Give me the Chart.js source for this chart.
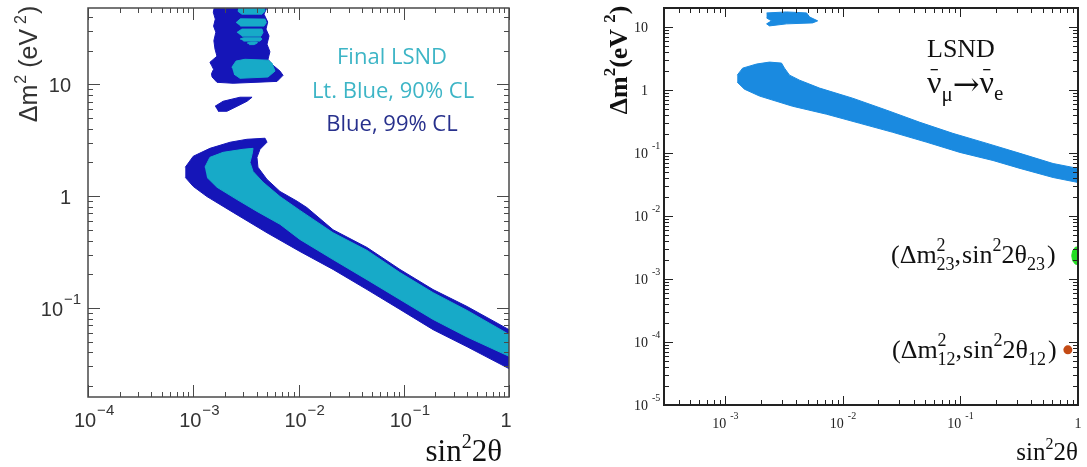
<!DOCTYPE html>
<html lang="en">
<head>
  <meta charset="UTF-8">
  <title>LSND allowed regions</title>
  <script src="https://cdn.jsdelivr.net/npm/chart.js"></script>
  <style>
    body {
      margin: 0;
      background: #fff;
      width: 1087px;
      height: 467px;
      position: relative;
      overflow: hidden;
    }
    .box {
      position: absolute;
      top: 0;
      height: 467px;
    }
  </style>
</head>
<body>
  <div class="box" style="left:0;width:540px"><canvas id="leftChart"></canvas></div>
  <div class="box" style="left:540px;width:547px"><canvas id="rightChart"></canvas></div>

  <script>
    // ---- left panel: final LSND result, [sin^2 2theta, dm^2] ----
    const leftXRange = [1e-4, 1];
    const leftYRange = [0.016, 48];
    const leftXTicks = [1e-4, 1e-3, 1e-2, 1e-1, 1];
    const leftXLabels = [['10', '−4'], ['10', '−3'], ['10', '−2'], ['10', '−1'], ['1', '']];
    const leftYTicks = [0.1, 1, 10];
    const leftYLabels = [['10', '−1'], ['1', ''], ['10', '']];

    // 99% CL contours (dark blue)
    const cl99Band = [
      [8.4e-4, 1.81], [1.0e-3, 2.27], [1.44e-3, 2.67], [2.24e-3, 3.03], [3.24e-3, 3.22],
      [4.81e-3, 3.29], [5.02e-3, 3.03], [4.31e-3, 2.62], [4.03e-3, 2.22], [4.12e-3, 1.81],
      [5.02e-3, 1.41], [6.67e-3, 1.10], [9.7e-3, 0.90], [1.2e-2, 0.79], [2.13e-2, 0.50],
      [4.48e-2, 0.347], [9.2e-2, 0.221], [0.19, 0.146], [0.40, 0.103], [1, 0.064],
      [1, 0.0287], [0.40, 0.045], [0.19, 0.064], [9.2e-2, 0.097], [4.48e-2, 0.146],
      [2.13e-2, 0.221], [1.03e-2, 0.32], [5.02e-3, 0.47], [2.39e-3, 0.715], [1.35e-3, 0.99],
      [1.0e-3, 1.22], [8.4e-4, 1.47]
    ];
    const cl99Column = [
      [1.61e-3, 52], [1.55e-3, 44], [1.62e-3, 38.2], [1.56e-3, 33], [1.64e-3, 29.2],
      [1.57e-3, 24.5], [1.61e-3, 20.6], [1.68e-3, 17.8], [1.44e-3, 15.7], [1.50e-3, 14.6],
      [1.56e-3, 13.6], [1.49e-3, 12.4], [1.51e-3, 11.6], [1.68e-3, 10.4], [2.39e-3, 10.2],
      [6.25e-3, 10.6], [7.13e-3, 12.0], [6.67e-3, 13.1], [5.72e-3, 14.8], [5.13e-3, 16.7],
      [5.35e-3, 19.5], [5.02e-3, 22.8], [5.25e-3, 27], [4.91e-3, 31.1], [5.1e-3, 36],
      [4.70e-3, 42.3], [4.95e-3, 47], [4.81e-3, 52]
    ];
    const cl99Island = [
      [1.61e-3, 6.35], [1.92e-3, 7.04], [2.78e-3, 7.65], [3.62e-3, 7.65],
      [3.24e-3, 7.04], [2.61e-3, 6.35], [2.09e-3, 5.73], [1.72e-3, 5.73]
    ];

    // 90% CL contours (light blue)
    const cl90Band = [
      [1.29e-3, 1.81], [1.44e-3, 2.22], [1.92e-3, 2.46], [2.97e-3, 2.62], [3.70e-3, 2.67],
      [3.62e-3, 2.36], [3.46e-3, 2.00], [3.70e-3, 1.66], [4.60e-3, 1.33], [6.67e-3, 0.99],
      [1.03e-2, 0.745], [2.13e-2, 0.47], [4.48e-2, 0.327], [9.2e-2, 0.207], [0.19, 0.137],
      [0.40, 0.095], [1, 0.058], [1, 0.037], [0.40, 0.055], [0.19, 0.079],
      [9.2e-2, 0.119], [4.48e-2, 0.179], [2.13e-2, 0.271], [1.03e-2, 0.41], [6.67e-3, 0.56],
      [4.03e-3, 0.73], [2.61e-3, 0.93], [1.68e-3, 1.20], [1.35e-3, 1.47]
    ];
    const cl90Block = [
      [2.33e-3, 14.2], [2.55e-3, 16.1], [3.10e-3, 16.7], [5.13e-3, 16.4], [5.60e-3, 15.4],
      [5.98e-3, 13.1], [5.13e-3, 11.6], [2.78e-3, 11.3], [2.44e-3, 12.3]
    ];
    const cl90Stripe1 = [[2.7e-3, 52], [4.7e-3, 52], [4.8e-3, 45], [4.5e-3, 42.3], [2.9e-3, 42.3], [2.65e-3, 45]];
    const cl90Stripe2 = [[2.55e-3, 35.5], [2.8e-3, 38.4], [4.8e-3, 38.2], [4.95e-3, 35.5], [4.7e-3, 33.1], [2.8e-3, 33.1]];
    const cl90Stripe3 = [[2.6e-3, 29], [2.9e-3, 31.1], [4.5e-3, 31.1], [4.6e-3, 29], [4.4e-3, 26.9], [2.9e-3, 26.9]];
    const cl90Stripe4 = [[2.78e-3, 25.3], [3.0e-3, 26.0], [4.4e-3, 26.0], [4.5e-3, 25.3], [4.3e-3, 24.3], [3.0e-3, 24.3]];
    const cl90Stripe5 = [[3.24e-3, 23.3], [3.5e-3, 23.8], [4.0e-3, 23.8], [4.03e-3, 23.3], [3.8e-3, 22.6], [3.4e-3, 22.6]];

    // ---- right panel: LSND region with the atmospheric and solar points ----
    const rightXRange = [3e-4, 1];
    const rightYRange = [1e-5, 20];
    const rightXTicks = [1e-3, 1e-2, 1e-1, 1];
    const rightXLabels = [['10', '-3'], ['10', '-2'], ['10', '-1'], ['1', '']];
    const rightYTicks = [1e-5, 1e-4, 1e-3, 1e-2, 1e-1, 1, 10];
    const rightYLabels = [['10', '-5'], ['10', '-4'], ['10', '-3'], ['10', '-2'], ['10', '-1'], ['1', ''], ['10', '']];

    const lsndBand = [
      [1.26e-3, 1.72], [1.40e-3, 2.22], [1.84e-3, 2.58], [2.37e-3, 2.77], [3.00e-3, 2.67],
      [3.18e-3, 2.22], [3.51e-3, 1.72], [4.27e-3, 1.43], [6.33e-3, 1.07], [1.21e-2, 0.74],
      [2.36e-2, 0.477], [4.51e-2, 0.307], [8.6e-2, 0.205], [0.168, 0.142], [0.321, 0.0986],
      [0.614, 0.068], [1, 0.0569], [1, 0.034], [0.614, 0.0408], [0.321, 0.0569],
      [0.189, 0.076], [9.9e-2, 0.102], [5.17e-2, 0.148], [2.65e-2, 0.213], [1.39e-2, 0.296],
      [7.26e-3, 0.412], [3.72e-3, 0.552], [1.95e-3, 0.80], [1.45e-3, 1.03], [1.26e-3, 1.33]
    ];
    const lsndBlob = [
      [2.24e-3, 16.7], [3.31e-3, 17.3], [4.91e-3, 16.7], [5.20e-3, 14.4], [6.09e-3, 12.5],
      [5.52e-3, 11.6], [3.31e-3, 11.2], [2.37e-3, 10.4], [2.24e-3, 11.2], [2.47e-3, 12.5], [2.24e-3, 13.9]
    ];
    const atmRegion = [
      [1.15, 3.3e-3], [0.95, 3.2e-3], [0.9, 2.8e-3], [0.885, 2.35e-3],
      [0.9, 1.95e-3], [0.95, 1.72e-3], [1.15, 1.65e-3]
    ];
    const solarPoint = [[0.82, 7.5e-5]];

    // ---- helpers ----
    function polygon(points, color, order) {
      return {
        data: points.map(p => ({ x: p[0], y: p[1] })),
        fill: 'shape',
        backgroundColor: color,
        borderColor: color,
        borderWidth: 1,
        pointRadius: 0,
        tension: 0,
        clip: 0,
        order: order
      };
    }

    function logSteps(min, max) {
      const out = [];
      for (let e = Math.floor(Math.log10(min)); e <= Math.ceil(Math.log10(max)); e++) {
        for (let m = 1; m < 10; m++) {
          const v = m * Math.pow(10, e);
          if (v >= min * 0.999 && v <= max * 1.001) out.push({ v: v, major: m === 1 });
        }
      }
      return out;
    }

    // draw a run of text pieces (super/subscripts, overbars)
    function drawRich(ctx, x, y, note) {
      const fontOf = p => `${note.weight || 'normal'} ${p.s}px ${p.f || note.family}`;
      let total = 0;
      note.parts.forEach(p => {
        ctx.font = fontOf(p);
        p._w = ctx.measureText(p.t).width;
        if (p.adv !== false) total += (p.pre || 0) + p._w;
      });
      let cx = x;
      if (note.align === 'center') cx = x - total / 2;
      if (note.align === 'right') cx = x - total;
      ctx.fillStyle = note.color;
      ctx.textAlign = 'left';
      ctx.textBaseline = 'alphabetic';
      note.parts.forEach(p => {
        ctx.font = fontOf(p);
        const px = cx + (p.pre || 0);
        const py = y + (p.dy || 0);
        ctx.fillText(p.t, px, py);
        if (p.bar) {
          ctx.fillRect(px + p._w * 0.25, py - p.s * 0.75, p._w * 0.5, 1.3);
        }
        if (p.adv !== false) cx = px + p._w;
      });
    }

    function drawTickLabel(ctx, x, y, lab, st, mode) {
      ctx.font = `${st.size}px ${st.family}`;
      const bw = ctx.measureText(lab[0]).width;
      ctx.font = `${st.expSize}px ${st.family}`;
      const ew = lab[1] ? ctx.measureText(lab[1]).width + st.gap : 0;
      let bx;
      if (mode === 'center') bx = x - (bw + ew) / 2 + (st.shift || 0);
      else if (mode === 'baseCenter') bx = x - bw / 2 + (st.shift || 0);
      else bx = x - bw - (lab[1] ? st.expRight : st.plainRight);
      ctx.fillStyle = st.color;
      ctx.textAlign = 'left';
      ctx.textBaseline = 'alphabetic';
      ctx.font = `${st.size}px ${st.family}`;
      ctx.fillText(lab[0], bx, y);
      if (lab[1]) {
        ctx.font = `${st.expSize}px ${st.family}`;
        ctx.fillText(lab[1], bx + bw + st.gap, y - st.rise);
      }
    }

    // frame, inward ticks on four sides, tick labels and text notes
    const frameDecor = {
      id: 'frameDecor',
      afterDraw(chart, args, o) {
        const ctx = chart.ctx;
        const a = chart.chartArea;
        const xs = chart.scales.x;
        const ys = chart.scales.y;
        ctx.save();
        ctx.strokeStyle = o.color;
        ctx.lineWidth = o.tickWidth;
        ctx.beginPath();
        logSteps(xs.min, xs.max).forEach(t => {
          const p = Math.round(xs.getPixelForValue(t.v)) + 0.5;
          const len = t.major ? o.major : o.minor;
          ctx.moveTo(p, a.bottom); ctx.lineTo(p, a.bottom - len);
          ctx.moveTo(p, a.top); ctx.lineTo(p, a.top + len);
        });
        logSteps(ys.min, ys.max).forEach(t => {
          const p = Math.round(ys.getPixelForValue(t.v)) + 0.5;
          const len = t.major ? o.major : o.minor;
          ctx.moveTo(a.left, p); ctx.lineTo(a.left + len, p);
          ctx.moveTo(a.right, p); ctx.lineTo(a.right - len, p);
        });
        ctx.stroke();
        ctx.lineWidth = o.frameWidth;
        ctx.strokeRect(a.left, a.top, a.right - a.left, a.bottom - a.top);

        o.xTicks.forEach((v, i) => {
          drawTickLabel(ctx, xs.getPixelForValue(v), a.bottom + o.xLabelDrop, o.xLabels[i], o.tickFont, o.xMode);
        });
        o.yTicks.forEach((v, i) => {
          drawTickLabel(ctx, a.left, ys.getPixelForValue(v) + o.yLabelDrop, o.yLabels[i], o.tickFont, 'right');
        });

        o.notes.forEach(n => {
          ctx.save();
          ctx.translate(n.x, n.y);
          if (n.rotate) ctx.rotate(-Math.PI / 2);
          drawRich(ctx, 0, 0, n);
          ctx.restore();
        });
        ctx.restore();
      }
    };

    const SANS = '"Liberation Sans", Arial, sans-serif';
    const SERIF = '"Liberation Serif", "DejaVu Serif", serif';
    const ROUND = '"Open Sans", "DejaVu Sans", sans-serif';

    function makeChart(id, datasets, xr, yr, padding, decor) {
      return new Chart(document.getElementById(id), {
        type: 'line',
        data: { datasets: datasets },
        options: {
          responsive: true,
          maintainAspectRatio: false,
          animation: false,
          events: [],
          layout: { padding: padding },
          scales: {
            x: { type: 'logarithmic', min: xr[0], max: xr[1], bounds: 'data', display: false },
            y: { type: 'logarithmic', min: yr[0], max: yr[1], bounds: 'data', display: false }
          },
          plugins: {
            legend: { display: false },
            tooltip: { enabled: false },
            frameDecor: decor
          }
        },
        plugins: [frameDecor]
      });
    }

    const darkBlue = '#1515b8';
    const lightBlue = '#17aac8';

    makeChart('leftChart', [
      polygon(cl90Band, lightBlue, 1),
      polygon(cl90Block, lightBlue, 1),
      polygon(cl90Stripe1, lightBlue, 1),
      polygon(cl90Stripe2, lightBlue, 1),
      polygon(cl90Stripe3, lightBlue, 1),
      polygon(cl90Stripe4, lightBlue, 1),
      polygon(cl90Stripe5, lightBlue, 1),
      polygon(cl99Band, darkBlue, 2),
      polygon(cl99Column, darkBlue, 2),
      polygon(cl99Island, darkBlue, 2)
    ], leftXRange, leftYRange, { left: 88, right: 31, top: 8, bottom: 70 }, {
      color: '#4a4a4a', tickWidth: 1, frameWidth: 1.5, major: 12, minor: 5,
      xTicks: leftXTicks, xLabels: leftXLabels, xLabelDrop: 30, xMode: 'baseCenter',
      yTicks: leftYTicks, yLabels: leftYLabels, yLabelDrop: 8,
      tickFont: { family: SANS, size: 20, expSize: 15, gap: 1, rise: 12, color: '#333',
                  shift: -3, expRight: 25, plainRight: 17 },
      notes: [
        { x: 392, y: 64, align: 'center', family: ROUND, color: '#3db5c6', parts: [{ t: 'Final LSND', s: 22 }] },
        { x: 393, y: 98, align: 'center', family: ROUND, color: '#3db5c6', parts: [{ t: 'Lt. Blue, 90% CL', s: 22 }] },
        { x: 392, y: 131, align: 'center', family: ROUND, color: '#27308c', parts: [{ t: 'Blue, 99% CL', s: 22 }] },
        { x: 37, y: 64, rotate: true, align: 'center', family: SANS, color: '#333', parts: [
          { t: 'Δm', s: 25 }, { t: '2', s: 16, dy: -11, pre: 1 }, { t: '(eV', s: 25, pre: 7 },
          { t: '2', s: 16, dy: -11, pre: 5 }, { t: ')', s: 25, pre: 1 }
        ] },
        { x: 502, y: 461, align: 'right', family: SERIF, color: '#111', parts: [
          { t: 'sin', s: 31 }, { t: '2', s: 20, dy: -13 }, { t: '2θ', s: 31 }
        ] }
      ]
    });

    const lsndBlue = '#1a8ae0';

    makeChart('rightChart', [
      polygon(lsndBand, lsndBlue, 2),
      polygon(lsndBlob, lsndBlue, 2),
      polygon(atmRegion, '#22dd22', 2),
      {
        data: solarPoint.map(p => ({ x: p[0], y: p[1] })),
        showLine: false,
        pointRadius: 4.5,
        pointBackgroundColor: '#c44a14',
        pointBorderColor: '#c44a14',
        pointBorderWidth: 0,
        order: 1
      }
    ], rightXRange, rightYRange, { left: 124, right: 9, top: 8, bottom: 62 }, {
      color: '#222', tickWidth: 1, frameWidth: 2, major: 9, minor: 5,
      xTicks: rightXTicks, xLabels: rightXLabels, xLabelDrop: 23, xMode: 'center',
      yTicks: rightYTicks, yLabels: rightYLabels, yLabelDrop: 5,
      tickFont: { family: SERIF, size: 14, expSize: 10, gap: 4, rise: 9, color: '#222',
                  shift: 0, expRight: 16, plainRight: 16 },
      notes: [
        { x: 387, y: 57, family: SERIF, color: '#111', parts: [{ t: 'LSND', s: 26 }] },
        { x: 387, y: 93, family: SERIF, color: '#111', parts: [
          { t: 'ν', s: 32, bar: true }, { t: 'μ', s: 21, dy: 8 },
          { t: '→', s: 32, dy: 2, f: '"DejaVu Serif", serif' },
          { t: 'ν', s: 32, bar: true }, { t: 'e', s: 21, dy: 7 }
        ] },
        { x: 351, y: 263, family: SERIF, color: '#111', parts: [
          { t: '(Δm', s: 26 }, { t: '2', s: 18, dy: -12, adv: false }, { t: '23', s: 18, dy: 7 },
          { t: ',', s: 26 }, { t: 'sin', s: 26, pre: 1 }, { t: '2', s: 18, dy: -12 },
          { t: '2θ', s: 26 }, { t: '23', s: 18, dy: 7 }, { t: ')', s: 26, pre: 2 }
        ] },
        { x: 352, y: 358, family: SERIF, color: '#111', parts: [
          { t: '(Δm', s: 26 }, { t: '2', s: 18, dy: -12, adv: false }, { t: '12', s: 18, dy: 7 },
          { t: ',', s: 26 }, { t: 'sin', s: 26, pre: 1 }, { t: '2', s: 18, dy: -12 },
          { t: '2θ', s: 26 }, { t: '12', s: 18, dy: 7 }, { t: ')', s: 26, pre: 2 }
        ] },
        { x: 87, y: 60, rotate: true, align: 'center', family: SERIF, weight: 'bold', color: '#111', parts: [
          { t: 'Δm', s: 26 }, { t: '2', s: 17, dy: -12 }, { t: '(eV', s: 26 },
          { t: '2', s: 17, dy: -12, pre: 6 }, { t: ')', s: 26 }
        ] },
        { x: 538, y: 460, align: 'right', family: SERIF, color: '#111', parts: [
          { t: 'sin', s: 25 }, { t: '2', s: 16, dy: -11 }, { t: '2θ', s: 25 }
        ] }
      ]
    });
  </script>
</body>
</html>
